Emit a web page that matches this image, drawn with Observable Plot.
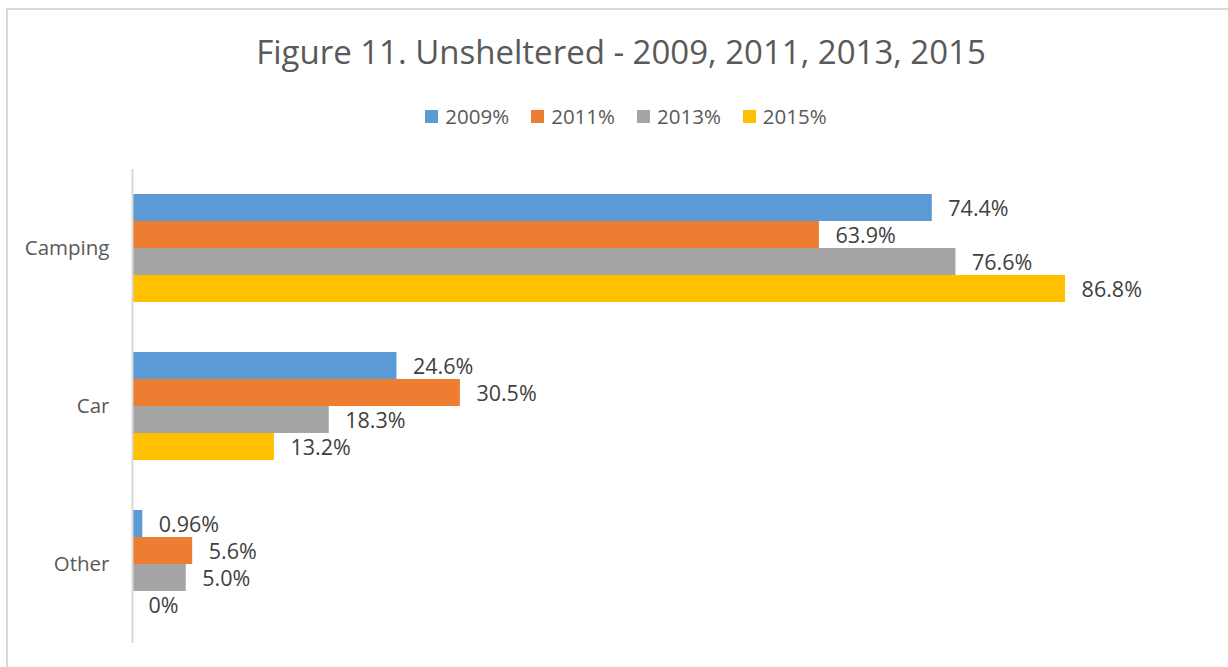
<!DOCTYPE html>
<html>
<head>
<meta charset="utf-8">
<script src="https://cdn.jsdelivr.net/npm/d3@7"></script>
<script src="https://cdn.jsdelivr.net/npm/@observablehq/plot@0.6"></script>
<style>
  html, body { margin: 0; padding: 0; background: #fff; }
  #wrap { position: relative; width: 1228px; height: 667px; overflow: hidden; font-family: "Open Sans", sans-serif; }
  #border { position: absolute; left: 6px; top: 8px; width: 1400px; height: 800px; border: 2px solid #d9d9d9; box-sizing: border-box; }
  #title { position: absolute; left: 0; width: 1242px; top: 29px; text-align: center; font-size: 33px; color: #595959; }
  #legend { position: absolute; left: 0; width: 1252px; top: 102px; display: flex; justify-content: center; gap: 22px; font-size: 20.5px; color: #595959; }
  #legend .item { display: flex; align-items: center; gap: 7px; }
  #legend .sw { width: 13px; height: 13px; display: inline-block; }
  #chart { position: absolute; left: 0; top: 150px; }
</style>
</head>
<body>
<div id="wrap">
  <div id="border"></div>
  <div id="title">Figure 11. Unsheltered - 2009, 2011, 2013, 2015</div>
  <div id="legend"></div>
  <div id="chart"></div>
</div>
<script>
const categories = ["Camping", "Car", "Other"];
const years = ["2009%", "2011%", "2013%", "2015%"];
const colors = ["#5B9BD5", "#ED7D31", "#A5A5A5", "#FFC000"];
const values2009 = [74.4, 24.6, 0.96];
const values2011 = [63.9, 30.5, 5.6];
const values2013 = [76.6, 18.3, 5.0];
const values2015 = [86.8, 13.2, 0];
const labels2009 = ["74.4%", "24.6%", "0.96%"];
const labels2011 = ["63.9%", "30.5%", "5.6%"];
const labels2013 = ["76.6%", "18.3%", "5.0%"];
const labels2015 = ["86.8%", "13.2%", "0%"];

const series = [values2009, values2011, values2013, values2015];
const seriesLabels = [labels2009, labels2011, labels2013, labels2015];
const data = [];
categories.forEach((c, ci) => {
  years.forEach((y, yi) => {
    data.push({category: c, year: y, value: series[yi][ci], label: seriesLabels[yi][ci]});
  });
});

// legend
const legend = document.getElementById("legend");
years.forEach((y, i) => {
  const it = document.createElement("div");
  it.className = "item";
  it.innerHTML = `<span class="sw" style="background:${colors[i]}"></span><span>${y}</span>`;
  legend.appendChild(it);
});

const chart = Plot.plot({
  width: 1228,
  height: 510,
  marginLeft: 132,
  marginRight: 21,
  marginTop: 19,
  marginBottom: 17,
  style: {fontFamily: "Open Sans, sans-serif", fontSize: "20.5px", color: "#595959", background: "transparent"},
  x: {domain: [0, 100], axis: null},
  y: {domain: years, paddingInner: 0, paddingOuter: 0.9, axis: null},
  fy: {domain: categories, padding: 0, label: null, tickSize: 0, tickPadding: 23},
  color: {domain: years, range: colors},
  marks: [
    Plot.barX(data, {x: "value", y: "year", fy: "category", fill: "year"}),
    Plot.ruleX([0], {stroke: "#d9d9d9", strokeWidth: 2}),
    Plot.text(data, {x: "value", y: "year", fy: "category", text: "label", textAnchor: "start", dx: 16, dy: 1, fill: "#404040", fontSize: 21.5})
  ]
});
document.getElementById("chart").appendChild(chart);
</script>
</body>
</html>
